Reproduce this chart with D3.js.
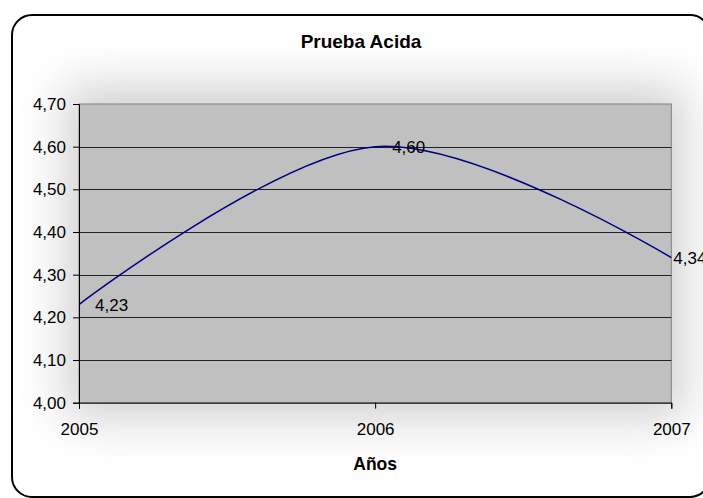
<!DOCTYPE html>
<html>
<head>
<meta charset="utf-8">
<script src="https://d3js.org/d3.v7.min.js"></script>
<style>
  body { margin: 0; background: #fff; }
  svg { display: block; font-family: "Liberation Sans", Arial, sans-serif; }
</style>
</head>
<body>
<div id="chart"></div>
<script>
// data
var years = [2005, 2006, 2007];
var values = [4.23, 4.60, 4.34];
var yTicks = [4.0, 4.1, 4.2, 4.3, 4.4, 4.5, 4.6, 4.7];
var labelDx = [16, 17, 2];   // excel puts the labels a bit off the point

var width = 703, height = 498;
var margin = {top: 104, right: 32, bottom: 95, left: 79};

var svg = d3.select("#chart").append("svg")
  .attr("width", width)
  .attr("height", height);

var defs = svg.append("defs");
defs.append("filter").attr("id", "glow")
  .attr("x", "-30%").attr("y", "-40%").attr("width", "160%").attr("height", "180%")
  .append("feGaussianBlur").attr("stdDeviation", 24);

// outer frame
svg.append("rect")
  .attr("x", 12).attr("y", 15)
  .attr("width", 698).attr("height", 482)
  .attr("rx", 20).attr("ry", 20)
  .style("fill", "#fff")
  .style("stroke", "#000")
  .style("stroke-width", 2);

var x = d3.scaleLinear()
  .domain([2005, 2007])
  .range([margin.left, width - margin.right + 0.3]);

var y = d3.scaleLinear()
  .domain([4.0, 4.7])
  .range([height - margin.bottom - 0.3, margin.top]);

// soft shadow round the plot area
svg.append("rect")
  .attr("x", x(2005) - 14).attr("y", y(4.7) - 18)
  .attr("width", x(2007) - x(2005) + 28).attr("height", y(4.0) - y(4.7) + 34)
  .style("fill", "#d0d0d0")
  .attr("filter", "url(#glow)");

svg.append("rect")
  .attr("x", x(2005)).attr("y", y(4.7))
  .attr("width", x(2007) - x(2005)).attr("height", y(4.0) - y(4.7))
  .style("fill", "#c0c0c0")
  .style("stroke", "#808080")
  .style("stroke-width", 1);

// gridlines
svg.selectAll(".grid")
  .data(yTicks.filter(function(d) { return d > 4.0 && d < 4.7; }))
  .enter().append("line")
  .attr("x1", x(2005)).attr("x2", x(2007))
  .attr("y1", function(d) { return Math.round(y(d)) + 0.5; })
  .attr("y2", function(d) { return Math.round(y(d)) + 0.5; })
  .style("stroke", "#222")
  .style("stroke-width", 1);

// y axis
var yAxis = svg.append("g")
  .attr("transform", "translate(" + (x(2005)) + ",0)")
  .call(d3.axisLeft(y).tickValues(yTicks).tickSize(6).tickPadding(7)
    .tickFormat(function(d) { return d3.format(".2f")(d).replace(".", ","); }));
yAxis.select(".domain").style("stroke", "#000");
yAxis.selectAll(".tick line").style("stroke", "#000");
yAxis.selectAll("text").style("font-size", "17px").style("fill", "#000")
  .attr("font-family", null);

// x axis
var xAxis = svg.append("g")
  .attr("transform", "translate(0," + y(4.0) + ")")
  .call(d3.axisBottom(x).tickValues(years).tickSize(6).tickPadding(14)
    .tickFormat(d3.format("d")));
xAxis.select(".domain").style("stroke", "#000");
xAxis.selectAll(".tick line").style("stroke", "#000");
xAxis.selectAll("text").style("font-size", "17px").style("fill", "#000")
  .attr("font-family", null);

// smoothed line
var line = d3.line()
  .x(function(d, i) { return x(years[i]); })
  .y(function(d) { return y(d); })
  .curve(d3.curveCatmullRom.alpha(0));

svg.append("path")
  .datum(values)
  .attr("d", line)
  .style("fill", "none")
  .style("stroke", "#000080")
  .style("stroke-width", 1.5);

// data labels
svg.selectAll(".lbl")
  .data(values)
  .enter().append("text")
  .attr("x", function(d, i) { return x(years[i]) + labelDx[i]; })
  .attr("y", function(d) { return y(d); })
  .attr("dy", "0.35em")
  .style("font-size", "17px")
  .style("fill", "#000")
  .text(function(d) { return d3.format(".2f")(d).replace(".", ","); });

// titles
svg.append("text")
  .attr("x", 361).attr("y", 48)
  .attr("text-anchor", "middle")
  .style("font-size", "19px").style("font-weight", "bold")
  .text("Prueba Acida");

svg.append("text")
  .attr("x", x(2006)).attr("y", 470)
  .attr("text-anchor", "middle")
  .style("font-size", "17.5px").style("font-weight", "bold")
  .text("Años");
</script>
</body>
</html>
